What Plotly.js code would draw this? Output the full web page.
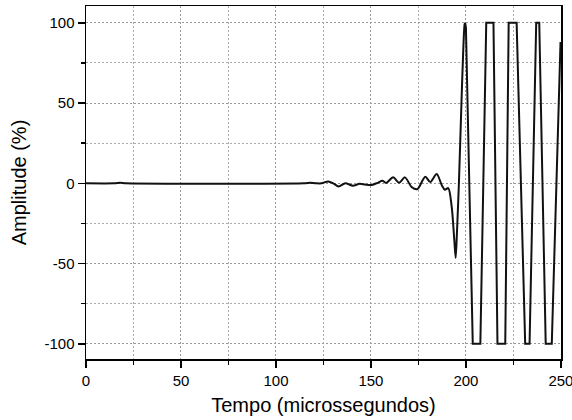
<!DOCTYPE html>
<html>
<head>
<meta charset="utf-8">
<script src="https://cdn.plot.ly/plotly-3.0.1.min.js"></script>
<style>html,body{margin:0;padding:0;background:#fff;}#chart{width:572px;height:420px;}</style>
</head>
<body>
<div id="chart"></div>
<script>
// Time (microseconds)
var tempo = [0, 15, 18, 21, 115, 118, 121, 124, 127.5, 130.2, 133, 136.5, 140.5, 144, 147, 150.5, 153.5, 156, 158,
  161.7, 164.8, 167.9, 171.4, 174.4, 178.6, 181.2, 184.6, 187.3, 188.9, 190.7, 192.5, 193.8, 194.6, 195.3, 196.3,
  197.7, 198.6, 199.3, 199.6, 200.0, 203.6, 207.6, 210.7, 214.5, 216.6, 220.7, 222.5, 226.7, 231.2, 233.5,
  237.0, 238.6, 242.0, 245.2, 249.8];
// Amplitude (%)
var amplitude = [0, 0, 0.3, 0, 0, 0.3, 0, 0, 1.2, 0, -2, 0, -1.5, -0.3, -0.8, -1, 0.3, 1.6, 0.2,
  3.7, 0.4, 3.7, -2.3, -3.7, 4.1, 0.8, 5.8, -1.2, -4, -3, -14.5, -34, -46.5, -30, 0,
  52, 83, 99, 100, 97, -100, -100, 100, 100, -100, -100, 100, 100, -100, -100,
  100, 100, -100, -100, 88];

var xTickVals = [0, 50, 100, 150, 200, 250];
var yTickVals = [-100, -50, 0, 50, 100];

// smooth part: low-level oscillations up to the first full peak; rest is clipped (linear)
var split = tempo.indexOf(199.6);

var font = {family: 'Liberation Sans', color: '#000'};
var lineStyle = {color: '#111', width: 2};

Plotly.newPlot('chart', [{
  x: tempo.slice(0, split + 1), y: amplitude.slice(0, split + 1), type: 'scatter', mode: 'lines',
  line: Object.assign({shape: 'spline', smoothing: 0.8}, lineStyle), hoverinfo: 'skip'
}, {
  x: tempo.slice(split), y: amplitude.slice(split), type: 'scatter', mode: 'lines',
  line: lineStyle, hoverinfo: 'skip'
}], {
  width: 572, height: 420,
  margin: {l: 86, r: 11, t: 6, b: 61},
  paper_bgcolor: '#fff', plot_bgcolor: '#fff',
  showlegend: false,
  xaxis: {
    range: [0, 250.05], tickvals: xTickVals, ticktext: xTickVals.map(String),
    ticklabeloverflow: 'allow',
    showline: true, linecolor: '#000', linewidth: 1.5, mirror: true,
    ticks: 'outside', ticklen: 7, tickwidth: 1.5, tickcolor: '#000',
    showgrid: true, gridcolor: '#999', griddash: '2px,2px', gridwidth: 1,
    minor: {dtick: 25, tick0: 0, ticks: 'outside', ticklen: 4, tickwidth: 1.5, tickcolor: '#000',
            showgrid: true, gridcolor: '#aaa', griddash: '2px,2px', gridwidth: 1},
    zeroline: false,
    tickfont: Object.assign({size: 15}, font),
    title: {text: 'Tempo (microssegundos)', font: Object.assign({size: 20}, font), standoff: 10}
  },
  yaxis: {
    range: [-109.5, 110.5], tickvals: yTickVals, ticktext: yTickVals.map(String),
    showline: true, linecolor: '#000', linewidth: 1.5, mirror: true,
    ticks: 'outside', ticklen: 7, tickwidth: 1.5, tickcolor: '#000',
    showgrid: true, gridcolor: '#999', griddash: '2px,2px', gridwidth: 1,
    minor: {dtick: 25, tick0: 0, ticks: 'outside', ticklen: 4, tickwidth: 1.5, tickcolor: '#000',
            showgrid: true, gridcolor: '#aaa', griddash: '2px,2px', gridwidth: 1},
    zeroline: false,
    tickfont: Object.assign({size: 15}, font),
    title: {text: 'Amplitude (%)', font: Object.assign({size: 20}, font), standoff: 12}
  }
}, {staticPlot: true, displayModeBar: false});
</script>
</body>
</html>
